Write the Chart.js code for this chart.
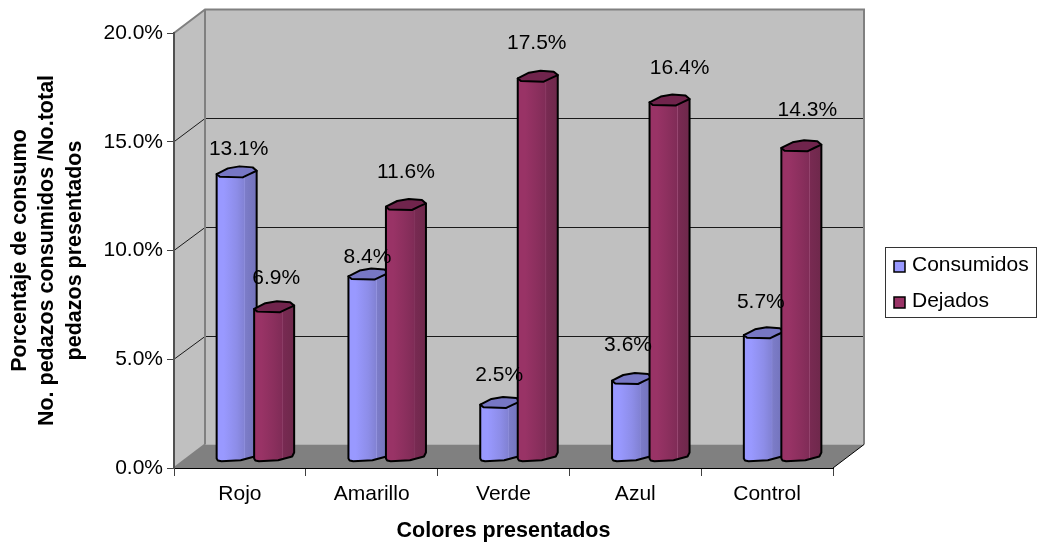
<!DOCTYPE html>
<html>
<head>
<meta charset="utf-8">
<title>Porcentaje de consumo</title>
<script src="https://cdn.jsdelivr.net/npm/chart.js@4"></script>
<style>
  html, body { margin: 0; padding: 0; background: #fff; }
  canvas { display: block; }
</style>
</head>
<body>
<canvas id="chart" width="1038" height="544"></canvas>
<script>
const categories = ['Rojo', 'Amarillo', 'Verde', 'Azul', 'Control'];
const consumidos = [13.1, 8.4, 2.5, 3.6, 5.7];
const dejados = [6.9, 11.6, 17.5, 16.4, 14.3];
const yTicks = [0, 5, 10, 15, 20];

const FONT = '"Liberation Sans", Arial, sans-serif';
const DEPTH = { x: 31, y: -23.5 };    // back wall offset from the front axes
const BAR_SHIFT = { x: 15.5, y: -9 }; // bars stand part way into the floor

// label nudges, dx/dy from the top of each cylinder
const labelNudge = [
  [[2, -25], [2, -31]],
  [[-1, -19], [0, -34]],
  [[-1, -29], [-1, -35]],
  [[-4, -35], [10, -34]],
  [[-3, -33], [6, -38]]
];

const blueShade = ['#9999ff', '#9999ff', '#8d8de8', '#8282d4', '#9494e0', '#7c7cc8', '#7272ba'];
const wineShade = ['#993366', '#993366', '#8a2f5d', '#802c57', '#9a4a74', '#782a52', '#6e284b'];
const shadeStops = [0, 0.18, 0.5, 0.69, 0.7, 0.72, 1];

function poly(ctx, pts) {
  ctx.beginPath();
  pts.forEach((p, i) => i ? ctx.lineTo(p[0], p[1]) : ctx.moveTo(p[0], p[1]));
  ctx.closePath();
}

function line(ctx, x1, y1, x2, y2) {
  ctx.beginPath();
  ctx.moveTo(x1, y1);
  ctx.lineTo(x2, y2);
  ctx.stroke();
}

const walls = {
  id: 'walls',
  beforeDraw(chart) {
    const { ctx, chartArea: a, scales: { y } } = chart;
    const d = DEPTH;
    ctx.save();
    // side wall and back wall
    ctx.fillStyle = '#c0c0c0';
    poly(ctx, [[a.left, a.top], [a.left + d.x, a.top + d.y], [a.left + d.x, a.bottom + d.y], [a.left, a.bottom]]);
    ctx.fill();
    ctx.fillRect(a.left + d.x, a.top + d.y, a.right - a.left, a.bottom - a.top);
    // floor
    ctx.fillStyle = '#808080';
    poly(ctx, [[a.left, a.bottom], [a.left + d.x, a.bottom + d.y], [a.right + d.x, a.bottom + d.y], [a.right, a.bottom]]);
    ctx.fill();
    // gridlines on both walls
    ctx.strokeStyle = '#1a1a1a';
    ctx.lineWidth = 1;
    yTicks.forEach(v => {
      if (v === 0 || v === 20) return;
      const py = y.getPixelForValue(v);
      const back = Math.round(py + d.y) + 0.5;
      line(ctx, a.left, py, a.left + d.x, back);
      line(ctx, a.left + d.x, back, a.right + d.x, back);
    });
    // wall edges
    ctx.strokeStyle = '#808080';
    ctx.lineWidth = 2;
    ctx.beginPath();
    ctx.moveTo(a.left, a.top);
    ctx.lineTo(a.left + d.x, a.top + d.y);
    ctx.lineTo(a.right + d.x, a.top + d.y);
    ctx.lineTo(a.right + d.x, a.bottom + d.y);
    ctx.stroke();
    line(ctx, a.left + d.x, a.top + d.y, a.left + d.x, a.bottom + d.y);
    line(ctx, a.left, a.bottom, a.left + d.x, a.bottom + d.y);
    // front right edge of the floor
    ctx.strokeStyle = '#000';
    ctx.lineWidth = 1;
    line(ctx, a.right, a.bottom, a.right + d.x, a.bottom + d.y);
    ctx.restore();
  }
};

function drawCylinder(ctx, bar, shades, capColor) {
  const w = bar.width;
  const x0 = bar.x - w / 2 + BAR_SHIFT.x;
  const top = bar.y + BAR_SHIFT.y;
  const base = bar.base + BAR_SHIFT.y;
  const g = ctx.createLinearGradient(x0, 0, x0 + w, 0);
  shadeStops.forEach((s, i) => g.addColorStop(s, shades[i]));

  // body, with the uneven lower rim of the faceted cylinder
  poly(ctx, [
    [x0, top], [x0 + w, top - 3.3], [x0 + w, base - 6],
    [x0 + w * 0.95, base - 2], [x0 + w * 0.6, base + 1.7],
    [x0 + w * 0.12, base + 2.7], [x0 + w * 0.03, base + 2], [x0, base]
  ]);
  ctx.fillStyle = g;
  ctx.fill();
  ctx.strokeStyle = '#000';
  ctx.lineWidth = 2;
  ctx.lineJoin = 'round';
  ctx.stroke();

  // top cap
  poly(ctx, [
    [x0, top], [x0 + w * 0.28, top - 5.7], [x0 + w * 0.57, top - 7.7], [x0 + w * 0.9, top - 6.7],
    [x0 + w, top - 3.3], [x0 + w * 0.82, top], [x0 + w * 0.65, top + 3.3], [x0 + w * 0.08, top + 2.7]
  ]);
  ctx.fillStyle = capColor;
  ctx.fill();
  ctx.stroke();
}

const cylinders = {
  id: 'cylinders',
  afterDatasetsDraw(chart) {
    const { ctx } = chart;
    const blue = chart.getDatasetMeta(0).data;
    const wine = chart.getDatasetMeta(1).data;
    ctx.save();
    categories.forEach((c, i) => {
      drawCylinder(ctx, blue[i], blueShade, '#7777c4');
      drawCylinder(ctx, wine[i], wineShade, '#70244c');
    });
    // value labels go on last, over every bar
    ctx.fillStyle = '#000';
    ctx.font = '21px ' + FONT;
    ctx.textAlign = 'center';
    ctx.textBaseline = 'middle';
    categories.forEach((c, i) => {
      [blue[i], wine[i]].forEach((bar, s) => {
        const value = s ? dejados[i] : consumidos[i];
        const n = labelNudge[i][s];
        ctx.fillText(value.toFixed(1) + '%', bar.x + BAR_SHIFT.x + n[0], bar.y + BAR_SHIFT.y + n[1]);
      });
    });
    ctx.restore();
  }
};

const legendBox = {
  id: 'legendBox',
  afterDraw(chart) {
    const { ctx } = chart;
    ctx.save();
    ctx.fillStyle = '#fff';
    ctx.strokeStyle = '#333';
    ctx.lineWidth = 1;
    ctx.fillRect(885, 247, 151, 70);
    ctx.strokeRect(885.5, 247.5, 151, 70);
    ctx.font = '21px ' + FONT;
    ctx.textBaseline = 'middle';
    chart.data.datasets.forEach((ds, i) => {
      const cy = 265 + i * 36;
      ctx.fillStyle = ds.legendColor;
      ctx.fillRect(894, cy - 4, 11, 11);
      ctx.strokeStyle = '#000';
      ctx.lineWidth = 1.5;
      ctx.strokeRect(894, cy - 4, 11, 11);
      ctx.fillStyle = '#000';
      ctx.fillText(ds.label, 912, cy);
    });
    ctx.restore();
  }
};

new Chart(document.getElementById('chart'), {
  type: 'bar',
  data: {
    labels: categories,
    datasets: [
      { label: 'Consumidos', data: consumidos, backgroundColor: 'transparent', legendColor: '#9999ff' },
      { label: 'Dejados', data: dejados, backgroundColor: 'transparent', legendColor: '#993366' }
    ]
  },
  options: {
    responsive: false,
    animation: false,
    categoryPercentage: 0.569,
    barPercentage: 1.067,
    layout: { padding: { top: 33, right: 205, bottom: 0, left: 0 } },
    plugins: { legend: { display: false }, tooltip: { enabled: false } },
    scales: {
      x: {
        afterFit(scale) { scale.height = 76; },
        grid: { drawOnChartArea: false, tickLength: 8, tickColor: '#404040', offset: true },
        border: { color: '#000', width: 1 },
        ticks: { color: '#000', font: { family: FONT, size: 21 }, padding: 6, maxRotation: 0 },
        title: {
          display: true,
          text: 'Colores presentados',
          color: '#000',
          font: { family: FONT, size: 21.5, weight: 'bold' },
          padding: { top: 4, bottom: 0 }
        }
      },
      y: {
        min: 0,
        max: 20,
        afterFit(scale) { scale.width = 174; },
        afterBuildTicks(scale) { scale.ticks = yTicks.map(value => ({ value })); },
        grid: { drawOnChartArea: false, tickLength: 7, tickColor: '#404040' },
        border: { color: '#505050', width: 2 },
        ticks: {
          color: '#000',
          font: { family: FONT, size: 21 },
          padding: 4,
          callback: v => v.toFixed(1) + '%'
        },
        title: {
          display: true,
          text: ['Porcentaje de consumo', 'No. pedazos consumidos /No.total', 'pedazos presentados'],
          color: '#000',
          font: { family: FONT, size: 21.5, weight: 'bold', lineHeight: 1.28 },
          padding: { top: 6, bottom: 0 }
        }
      }
    }
  },
  plugins: [walls, cylinders, legendBox]
});
</script>
</body>
</html>
